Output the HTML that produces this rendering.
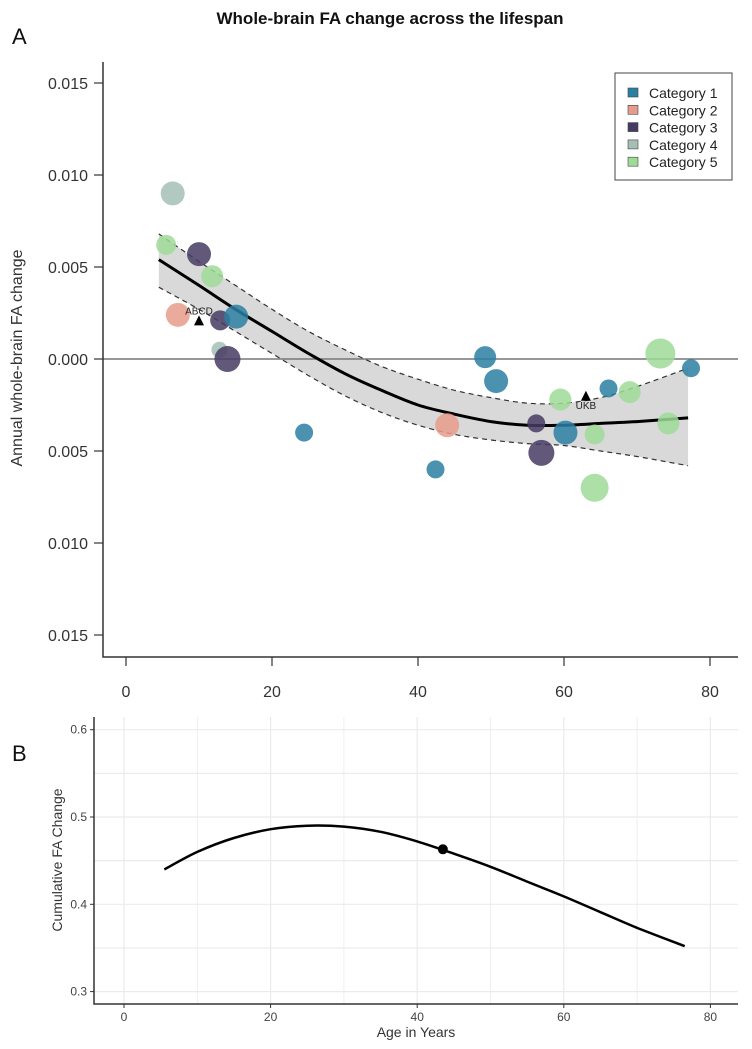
<!DOCTYPE html>
<html><head><meta charset="utf-8"><style>
body{margin:0;background:#fff;}
svg{display:block;font-family:"Liberation Sans",sans-serif;}
</style></head><body>
<svg id="fig" width="752" height="1049" viewBox="0 0 752 1049">
<text x="390" y="24" text-anchor="middle" font-size="17" font-weight="bold" fill="#111">Whole-brain FA change across the lifespan</text>
<text x="12" y="44" font-size="22" fill="#111">A</text>
<text x="12" y="761" font-size="22" fill="#111">B</text>
<g id="pa"></g>
<g id="pb"></g>
</svg>
<script>
// Panel A data
const catColors = ["#2b7fa3","#e69c8c","#463b63","#a5bfb6","#9edb97"];
const catNames = ["Category 1","Category 2","Category 3","Category 4","Category 5"];
const ptAge  = [6.4,5.5,10,11.8,7.1,12.9,15.1,12.8,13.9,24.4,49.2,50.7,44,42.4,56.2,56.9,59.5,60.2,64.2,64.2,66.1,69,73.2,77.4,74.3];
const ptVal  = [0.0090,0.0062,0.0057,0.0045,0.0024,0.0021,0.0023,0.0005,0.0000,-0.0040,0.0001,-0.0012,-0.0036,-0.0060,-0.0035,-0.0051,-0.0022,-0.0040,-0.0041,-0.0070,-0.0016,-0.0018,0.0003,-0.0005,-0.0035];
const ptCat  = [3,4,2,4,1,2,0,3,2,0,0,0,1,0,2,2,4,0,4,4,0,4,4,0,4];
const ptSize = [12,10,12,11,12,10,12,8,13,9,11,12,12,9,9,13,11,12,10,14,9,11,15,9,11];
const fitAge = [4.5,10,15,20,25,30,35,40,45,50,55,60,65,70,77];
const fitVal = [0.0054,0.0040,0.0027,0.0015,0.0003,-0.0008,-0.0017,-0.0025,-0.0030,-0.0034,-0.0036,-0.0036,-0.0035,-0.0034,-0.0032];
const fitHi  = [0.0068,0.0053,0.0040,0.0027,0.0015,0.0005,-0.0004,-0.0011,-0.0017,-0.0021,-0.0024,-0.0024,-0.0021,-0.0015,-0.0005];
const fitLo  = [0.0039,0.0027,0.0015,0.0003,-0.0009,-0.0020,-0.0029,-0.0036,-0.0041,-0.0044,-0.0046,-0.0047,-0.0050,-0.0053,-0.0058];
const triAge = [10,63];
const triVal = [0.0021,-0.0020];
const triLbl = ["ABCD","UKB"];
const aYTicks = [0.015,0.010,0.005,0.000,-0.005,-0.010,-0.015];
const aYLabels = ["0.015","0.010","0.005","0.000","0.005","0.010","0.015"];
const aXTicks = [0,20,40,60,80];
// Panel B data
const bAge = [5.5,10,15,20,25,30,35,40,45,50,55,60,65,70,76.5];
const bVal = [0.440,0.460,0.476,0.486,0.490,0.489,0.483,0.472,0.458,0.443,0.426,0.409,0.391,0.373,0.352];
const bPointAge = [43.5];
const bPointVal = [0.463];
const bYTicks = [0.3,0.4,0.5,0.6];
const bXTicks = [0,20,40,60,80];

const NS="http://www.w3.org/2000/svg";
function mk(parent,tag,attrs,text){const e=document.createElementNS(NS,tag);for(const k in attrs)e.setAttribute(k,attrs[k]);if(text!==undefined)e.textContent=text;parent.appendChild(e);return e;}
const pa=document.getElementById('pa'), pb=document.getElementById('pb');

function crPath(pts,move){
  let d=(move?'M':'L')+pts[0][0].toFixed(1)+','+pts[0][1].toFixed(1);
  for(let i=0;i<pts.length-1;i++){
    const p0=pts[Math.max(0,i-1)],p1=pts[i],p2=pts[i+1],p3=pts[Math.min(pts.length-1,i+2)];
    const c1=[p1[0]+(p2[0]-p0[0])/6,p1[1]+(p2[1]-p0[1])/6];
    const c2=[p2[0]-(p3[0]-p1[0])/6,p2[1]-(p3[1]-p1[1])/6];
    d+=` C${c1[0].toFixed(1)},${c1[1].toFixed(1)} ${c2[0].toFixed(1)},${c2[1].toFixed(1)} ${p2[0].toFixed(1)},${p2[1].toFixed(1)}`;
  }
  return d;
}

// Panel A scales
const ax=a=>126+7.3*a, ay=v=>359-v*18400;
const ptsA=(xs,ys)=>xs.map((a,i)=>[ax(a),ay(ys[i])]);
let hiPts=ptsA(fitAge,fitHi), loPts=ptsA(fitAge,fitLo).reverse();
let band=crPath(hiPts,true)+' '+crPath(loPts,false)+'Z';
let e=mk(pa,'path',{d:band,fill:'#d9d9d9'});


e=mk(pa,'line',{x1:103,x2:738,y1:ay(0),y2:ay(0),stroke:'#777','stroke-width':1.5});


e=mk(pa,'path',{d:crPath(ptsA(fitAge,fitHi),true),fill:'none',stroke:'#333','stroke-width':1.2,'stroke-dasharray':'5,4'});


e=mk(pa,'path',{d:crPath(ptsA(fitAge,fitLo),true),fill:'none',stroke:'#333','stroke-width':1.2,'stroke-dasharray':'5,4'});


e=mk(pa,'path',{d:crPath(ptsA(fitAge,fitVal),true),fill:'none',stroke:'#000','stroke-width':3});


ptAge.forEach((a,i)=>{
  const c=mk(pa,'circle',{cx:ax(a),cy:ay(ptVal[i]),r:ptSize[i],fill:catColors[ptCat[i]],'fill-opacity':0.85});
  
  
});
triAge.forEach((a,i)=>{
  const x=ax(a),y=ay(triVal[i]);
  const t=mk(pa,'path',{d:`M${x-5},${y+5}L${x+5},${y+5}L${x},${y-5}Z`,fill:'#000'});
  
  
  const l=mk(pa,'text',{x:x,y:i==0?y-6:y+13,'text-anchor':'middle','font-size':10,fill:'#222'},triLbl[i]);
  
  
});
// axes A
e=mk(pa,'path',{d:'M103,62L103,657L738,657',fill:'none',stroke:'#333','stroke-width':1.5});


aYTicks.forEach((v,i)=>{
  mk(pa,'line',{x1:94,x2:103,y1:ay(v),y2:ay(v),stroke:'#333','stroke-width':1.2});
  const t=mk(pa,'text',{x:88,y:ay(v)+6,'text-anchor':'end','font-size':16,fill:'#333'},aYLabels[i]);
  
  
});
aXTicks.forEach(a=>{
  mk(pa,'line',{x1:ax(a),x2:ax(a),y1:657,y2:666,stroke:'#333','stroke-width':1.2});
  const t=mk(pa,'text',{x:ax(a),y:697,'text-anchor':'middle','font-size':16,fill:'#333'},a);
  
  
});
e=mk(pa,'text',{x:22,y:358,'text-anchor':'middle','font-size':16,fill:'#333',transform:'rotate(-90 22 358)'},'Annual whole-brain FA change');


// legend
e=mk(pa,'rect',{x:615,y:73,width:117,height:107,fill:'#fff',stroke:'#444','stroke-width':1});


catNames.forEach((n,i)=>{
  const y=93+i*17.3;
  mk(pa,'rect',{x:628,y:y-5,width:10,height:9,fill:catColors[i],stroke:'#444','stroke-width':0.6});
  const t=mk(pa,'text',{x:649,y:y+5,'font-size':14,fill:'#222'},n);
  
  
});

// Panel B
const bx=a=>124+7.33*a, by=v=>817-(v-0.5)*873;
for(let a=0;a<=80;a+=10){mk(pb,'line',{x1:bx(a),x2:bx(a),y1:717,y2:1004,stroke:'#ebebeb','stroke-width':a%20?0.8:1.2});}
for(let v=0.3;v<=0.61;v+=0.05){mk(pb,'line',{x1:94,x2:738,y1:by(v),y2:by(v),stroke:'#ebebeb','stroke-width':1.2});}
e=mk(pb,'path',{d:crPath(bAge.map((a,i)=>[bx(a),by(bVal[i])]),true),fill:'none',stroke:'#000','stroke-width':2.5});


bPointAge.forEach((a,i)=>{
  const c=mk(pb,'circle',{cx:bx(a),cy:by(bPointVal[i]),r:5,fill:'#000'});
  
  
});
e=mk(pb,'path',{d:'M94,717L94,1004L738,1004',fill:'none',stroke:'#333','stroke-width':1.5});


bYTicks.forEach(v=>{
  mk(pb,'line',{x1:90,x2:94,y1:by(v),y2:by(v),stroke:'#333'});
  const t=mk(pb,'text',{x:87,y:by(v)+4,'text-anchor':'end','font-size':12,fill:'#444'},v.toFixed(1));
  
  
});
bXTicks.forEach(a=>{
  mk(pb,'line',{x1:bx(a),x2:bx(a),y1:1004,y2:1008,stroke:'#333'});
  const t=mk(pb,'text',{x:bx(a),y:1021,'text-anchor':'middle','font-size':12,fill:'#444'},a);
  
  
});
e=mk(pb,'text',{x:416,y:1037,'text-anchor':'middle','font-size':14,fill:'#333'},'Age in Years');


e=mk(pb,'text',{x:62,y:860,'text-anchor':'middle','font-size':14,fill:'#333',transform:'rotate(-90 62 860)'},'Cumulative FA Change');


</script>
</body></html>
